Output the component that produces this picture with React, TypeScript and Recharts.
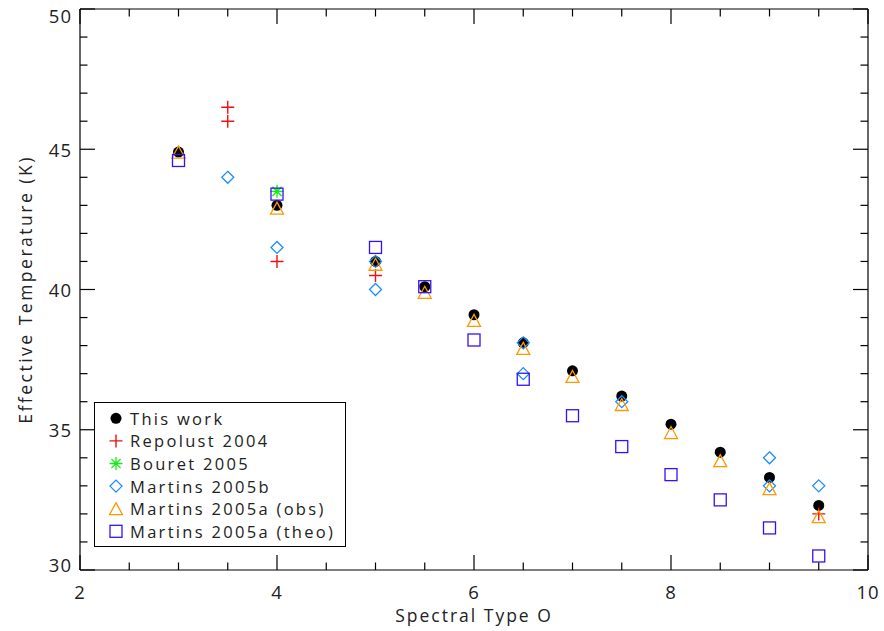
import React from 'react';
import { ScatterChart, Scatter, XAxis, YAxis, Legend } from 'recharts';

// ---- data ----
const thisWorkX = [3, 4, 5, 5.5, 6, 6.5, 7, 7.5, 8, 8.5, 9, 9.5];
const thisWorkT = [44.9, 43.0, 41.0, 40.1, 39.1, 38.1, 37.1, 36.2, 35.2, 34.2, 33.3, 32.3];

const repolustX = [3.5, 3.5, 4, 5, 9.5];
const repolustT = [46.5, 46.0, 41.0, 40.5, 32.0];

const bouretX = [4];
const bouretT = [43.5];

const martinsBX = [3.5, 4, 5, 5, 6.5, 6.5, 7.5, 9, 9, 9.5];
const martinsBT = [44.0, 41.5, 41.0, 40.0, 38.1, 37.0, 36.0, 34.0, 33.0, 33.0];

const obsX = [3, 4, 5, 5.5, 6, 6.5, 7, 7.5, 8, 8.5, 9, 9.5];
const obsT = [44.9, 42.9, 40.9, 39.9, 38.9, 37.9, 36.9, 35.9, 34.9, 33.9, 32.9, 31.9];

const theoX = [3, 4, 5, 5.5, 6, 6.5, 7, 7.5, 8, 8.5, 9, 9.5];
const theoT = [44.6, 43.4, 41.5, 40.1, 38.2, 36.8, 35.5, 34.4, 33.4, 32.5, 31.5, 30.5];

const xTicks = [2, 2.5, 3, 3.5, 4, 4.5, 5, 5.5, 6, 6.5, 7, 7.5, 8, 8.5, 9, 9.5, 10];
const xLabels = [2, 4, 6, 8, 10];
const yTicks = [30, 31, 32, 33, 34, 35, 36, 37, 38, 39, 40, 41, 42, 43, 44, 45, 46, 47, 48, 49, 50];
const yLabels = [30, 35, 40, 45, 50];

const seriesNames = [
  'This work',
  'Repolust 2004',
  'Bouret 2005',
  'Martins 2005b',
  'Martins 2005a (obs)',
  'Martins 2005a (theo)',
];

// ---- styles ----
const FONT = "'Open Sans', 'DejaVu Sans', sans-serif";
const TEXT_FILL = '#222';
const RED = '#f01010';
const GREEN = '#11ee11';
const DIAMOND = '#1a8cff';
const ORANGE = '#ff9900';
const SQUARE = '#3311ff';

const toPts = (xs: number[], ys: number[]) => xs.map((x, i) => ({ x, y: ys[i] }));

// ---- symbols ----
const drawSymbol = (kind: number, cx: number, cy: number) => {
  switch (kind) {
    case 0:
      return <circle cx={cx} cy={cy} r={5.5} fill="#000" />;
    case 1:
      return (
        <path d={`M${cx - 6.5},${cy}h13M${cx},${cy - 6.5}v13`} stroke={RED} strokeWidth={1.4} fill="none" />
      );
    case 2:
      return (
        <path
          d={`M${cx - 6.5},${cy}h13M${cx},${cy - 6.5}v13M${cx - 4.6},${cy - 4.6}l9.2,9.2M${cx - 4.6},${cy + 4.6}l9.2,-9.2`}
          stroke={GREEN}
          strokeWidth={1.3}
          fill="none"
        />
      );
    case 3:
      return (
        <path
          d={`M${cx},${cy - 6}L${cx + 6},${cy}L${cx},${cy + 6}L${cx - 6},${cy}Z`}
          stroke={DIAMOND}
          strokeWidth={1.3}
          fill="none"
        />
      );
    case 4:
      return (
        <path
          d={`M${cx},${cy - 6}L${cx + 6.5},${cy + 6}L${cx - 6.5},${cy + 6}Z`}
          stroke={ORANGE}
          strokeWidth={1.3}
          fill="none"
        />
      );
    default:
      return <rect x={cx - 6} y={cy - 6} width={12} height={12} stroke={SQUARE} strokeWidth={1.3} fill="none" />;
  }
};

const makeShape = (kind: number) => (p: any) => <g>{drawSymbol(kind, p.cx, p.cy)}</g>;
const noShape = () => <g />;

// ---- ticks ----
const tickText = { fontFamily: FONT, fontSize: 18.5, fill: TEXT_FILL, letterSpacing: 1 };
const xTitleText = { fontFamily: FONT, fontSize: 17.5, fill: TEXT_FILL, letterSpacing: 2 };
const yTitleText = { fontFamily: FONT, fontSize: 17.5, fill: TEXT_FILL, letterSpacing: 2.5 };
const legendText = { fontFamily: FONT, fontSize: 16.5, fill: TEXT_FILL, letterSpacing: 2.3 };

const BottomTick = (props: any) => {
  const { x, y, payload } = props;
  const v = payload.value;
  const major = xLabels.includes(v);
  return (
    <g>
      <line x1={x} y1={y} x2={x} y2={y - (major ? 15 : 7.5)} stroke="#000" strokeWidth={1.2} />
      {major && (
        <text x={x} y={y + 21} textAnchor="middle" dominantBaseline="central" {...tickText}>
          {v}
        </text>
      )}
    </g>
  );
};

const TopTick = (props: any) => {
  const { x, y, payload } = props;
  const major = xLabels.includes(payload.value);
  return <line x1={x} y1={y} x2={x} y2={y + (major ? 15 : 7.5)} stroke="#000" strokeWidth={1.2} />;
};

const LeftTick = (props: any) => {
  const { x, y, payload } = props;
  const v = payload.value;
  const major = yLabels.includes(v);
  let dy = 0;
  if (v === yTicks[yTicks.length - 1]) dy = 6;
  if (v === yTicks[0]) dy = -6;
  return (
    <g>
      <line x1={x} y1={y} x2={x + (major ? 15 : 7.5)} y2={y} stroke="#000" strokeWidth={1.2} />
      {major && (
        <text x={x - 8} y={y + dy} textAnchor="end" dominantBaseline="central" {...tickText}>
          {v}
        </text>
      )}
    </g>
  );
};

const RightTick = (props: any) => {
  const { x, y, payload } = props;
  const major = yLabels.includes(payload.value);
  return <line x1={x} y1={y} x2={x - (major ? 15 : 7.5)} y2={y} stroke="#000" strokeWidth={1.2} />;
};

const YTitle = (props: any) => {
  const vb = props.viewBox;
  const cx = vb.x + 25;
  const cy = vb.y + vb.height / 2;
  return (
    <text
      x={cx}
      y={cy}
      transform={`rotate(-90 ${cx} ${cy})`}
      textAnchor="middle"
      dominantBaseline="central"
      {...yTitleText}
    >
      Effective Temperature (K)
    </text>
  );
};

const XTitle = (props: any) => {
  const vb = props.viewBox;
  const cx = vb.x + vb.width / 2;
  const cy = vb.y + 45;
  return (
    <text x={cx} y={cy} textAnchor="middle" dominantBaseline="central" {...xTitleText}>
      Spectral Type O
    </text>
  );
};

const LegendBox = () => (
  <svg width={252} height={145} style={{ display: 'block' }}>
    <rect x={0.5} y={0.5} width={251} height={144} fill="#fff" stroke="#000" strokeWidth={1} />
    {seriesNames.map((name, i) => {
      const cy = 16.3 + i * 22.6;
      return (
        <g key={name}>
          {drawSymbol(i, 22, cy)}
          <text x={36} y={cy} dominantBaseline="central" {...legendText}>
            {name}
          </text>
        </g>
      );
    })}
  </svg>
);

const seriesData = [
  toPts(thisWorkX, thisWorkT),
  toPts(repolustX, repolustT),
  toPts(bouretX, bouretT),
  toPts(martinsBX, martinsBT),
  toPts(obsX, obsT),
  toPts(theoX, theoT),
];

export default function App() {
  return (
    <div style={{ position: 'absolute', left: 0, top: 0, width: 884, height: 631, background: '#fff' }}>
      <ScatterChart width={884} height={631} margin={{ top: 8, right: 15, bottom: 0, left: 0 }}>
        <XAxis
          xAxisId="b"
          type="number"
          dataKey="x"
          orientation="bottom"
          domain={[2, 10]}
          ticks={xTicks}
          interval={0}
          allowDataOverflow
          height={61}
          tickSize={0}
          tickMargin={0}
          tickLine={false}
          axisLine={{ stroke: '#000', strokeWidth: 1.2 }}
          tick={<BottomTick />}
          label={XTitle}
        />
        <XAxis
          xAxisId="t"
          type="number"
          dataKey="x"
          orientation="top"
          domain={[2, 10]}
          ticks={xTicks}
          interval={0}
          allowDataOverflow
          height={1}
          tickSize={0}
          tickMargin={0}
          tickLine={false}
          axisLine={{ stroke: '#000', strokeWidth: 1.2 }}
          tick={<TopTick />}
        />
        <YAxis
          yAxisId="l"
          type="number"
          dataKey="y"
          orientation="left"
          domain={[30, 50]}
          ticks={yTicks}
          interval={0}
          allowDataOverflow
          width={80}
          tickSize={0}
          tickMargin={0}
          tickLine={false}
          axisLine={{ stroke: '#000', strokeWidth: 1.2 }}
          tick={<LeftTick />}
          label={YTitle}
        />
        <YAxis
          yAxisId="r"
          type="number"
          dataKey="y"
          orientation="right"
          domain={[30, 50]}
          ticks={yTicks}
          interval={0}
          allowDataOverflow
          width={1}
          tickSize={0}
          tickMargin={0}
          tickLine={false}
          axisLine={{ stroke: '#000', strokeWidth: 1.2 }}
          tick={<RightTick />}
        />
        {seriesData.map((d, i) => (
          <Scatter
            key={seriesNames[i]}
            name={seriesNames[i]}
            data={d}
            xAxisId="b"
            yAxisId="l"
            shape={makeShape(i)}
            isAnimationActive={false}
          />
        ))}
        <Scatter
          name="frame"
          data={seriesData[0]}
          xAxisId="t"
          yAxisId="r"
          shape={noShape}
          legendType="none"
          isAnimationActive={false}
        />
        <Legend
          layout="vertical"
          align="center"
          verticalAlign="middle"
          content={<LegendBox />}
          wrapperStyle={{ position: 'absolute', left: 94, top: 402, width: 252, height: 145 }}
        />
      </ScatterChart>
    </div>
  );
}
